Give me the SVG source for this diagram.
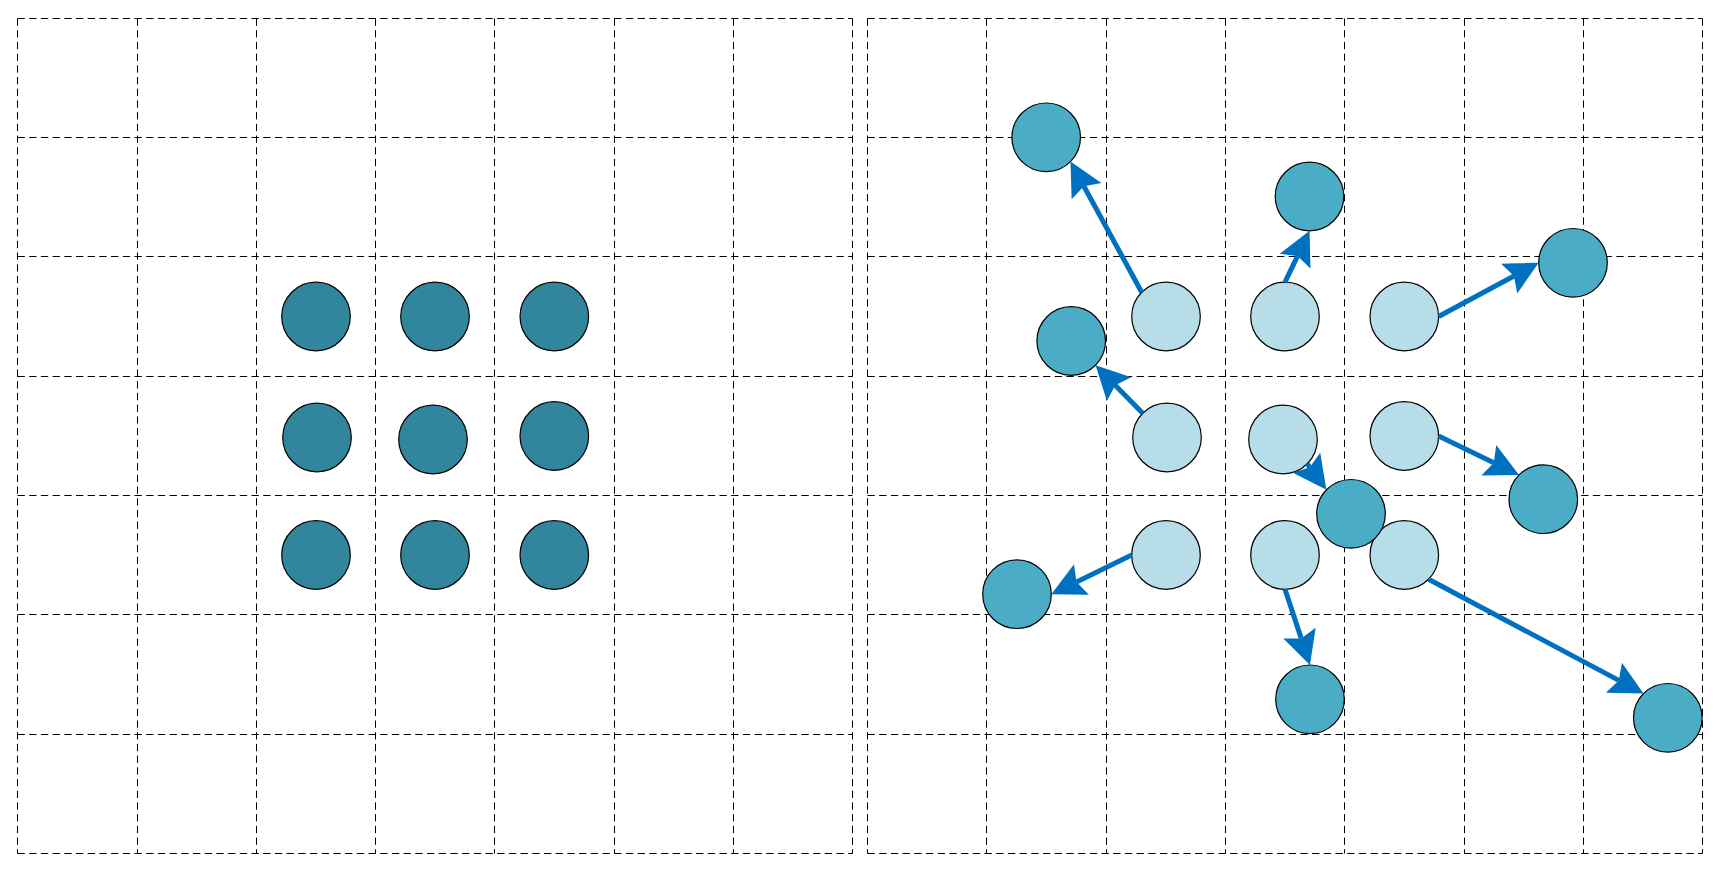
<svg xmlns="http://www.w3.org/2000/svg" width="1719" height="879" viewBox="0 0 1719 879">
<style>
.g{stroke:#000;stroke-width:1;stroke-dasharray:7.3 4.4;fill:none}
.c{stroke:#000;stroke-width:1.2}
.a{fill:#31859C}
.l{fill:#B6DDE8}
.d{fill:#4BACC6}
.k{stroke:#0070C0;stroke-width:5;fill:none;marker-end:url(#ah)}
</style>
<defs>
<marker id="ah" markerUnits="userSpaceOnUse" viewBox="-35 -18 37 36" markerWidth="37" markerHeight="36" refX="-28" refY="0" orient="auto" overflow="visible">
<path d="M0,0 L-33.5,-17 L-28,0 L-33.5,17 Z" fill="#0070C0"/>
</marker>
</defs>
<rect width="1719" height="879" fill="#fff"/>
<g id="grid-left" class="g">
<line x1="17.5" y1="18.5" x2="17.5" y2="853.5"/>
<line x1="137.5" y1="18.5" x2="137.5" y2="853.5"/>
<line x1="256.5" y1="18.5" x2="256.5" y2="853.5"/>
<line x1="375.5" y1="18.5" x2="375.5" y2="853.5"/>
<line x1="494.5" y1="18.5" x2="494.5" y2="853.5"/>
<line x1="614.5" y1="18.5" x2="614.5" y2="853.5"/>
<line x1="733.5" y1="18.5" x2="733.5" y2="853.5"/>
<line x1="852.5" y1="18.5" x2="852.5" y2="853.5"/>
<line x1="17.5" y1="18.5" x2="852.5" y2="18.5"/>
<line x1="17.5" y1="137.5" x2="852.5" y2="137.5"/>
<line x1="17.5" y1="256.5" x2="852.5" y2="256.5"/>
<line x1="17.5" y1="376.5" x2="852.5" y2="376.5"/>
<line x1="17.5" y1="495.5" x2="852.5" y2="495.5"/>
<line x1="17.5" y1="614.5" x2="852.5" y2="614.5"/>
<line x1="17.5" y1="734.5" x2="852.5" y2="734.5"/>
<line x1="17.5" y1="853.5" x2="852.5" y2="853.5"/>
</g>
<g id="grid-right" class="g">
<line x1="867.5" y1="18.5" x2="867.5" y2="853.5"/>
<line x1="986.5" y1="18.5" x2="986.5" y2="853.5"/>
<line x1="1106.5" y1="18.5" x2="1106.5" y2="853.5"/>
<line x1="1225.5" y1="18.5" x2="1225.5" y2="853.5"/>
<line x1="1344.5" y1="18.5" x2="1344.5" y2="853.5"/>
<line x1="1464.5" y1="18.5" x2="1464.5" y2="853.5"/>
<line x1="1583.5" y1="18.5" x2="1583.5" y2="853.5"/>
<line x1="1702.5" y1="18.5" x2="1702.5" y2="853.5"/>
<line x1="867.5" y1="18.5" x2="1702.5" y2="18.5"/>
<line x1="867.5" y1="137.5" x2="1702.5" y2="137.5"/>
<line x1="867.5" y1="256.5" x2="1702.5" y2="256.5"/>
<line x1="867.5" y1="376.5" x2="1702.5" y2="376.5"/>
<line x1="867.5" y1="495.5" x2="1702.5" y2="495.5"/>
<line x1="867.5" y1="614.5" x2="1702.5" y2="614.5"/>
<line x1="867.5" y1="734.5" x2="1702.5" y2="734.5"/>
<line x1="867.5" y1="853.5" x2="1702.5" y2="853.5"/>
</g>
<g id="left-nodes">
<g id="p11"><circle class="c a" cx="316" cy="316.5" r="34.3"/></g>
<g id="p12"><circle class="c a" cx="435" cy="316.5" r="34.3"/></g>
<g id="p13"><circle class="c a" cx="554.3" cy="316.5" r="34.3"/></g>
<g id="p21"><circle class="c a" cx="317" cy="437.5" r="34.3"/></g>
<g id="p22"><circle class="c a" cx="433" cy="439.5" r="34.3"/></g>
<g id="p23"><circle class="c a" cx="554.3" cy="436" r="34.3"/></g>
<g id="p31"><circle class="c a" cx="316" cy="555" r="34.3"/></g>
<g id="p32"><circle class="c a" cx="435" cy="555" r="34.3"/></g>
<g id="p33"><circle class="c a" cx="554.3" cy="555" r="34.3"/></g>
</g>
<g id="source-nodes">
<g id="s11"><circle class="c l" cx="1166" cy="316.5" r="34.3"/></g>
<g id="s12"><circle class="c l" cx="1285" cy="316.5" r="34.3"/></g>
<g id="s13"><circle class="c l" cx="1404.3" cy="316.5" r="34.3"/></g>
<g id="s21"><circle class="c l" cx="1167" cy="437.5" r="34.3"/></g>
<g id="s22"><circle class="c l" cx="1283" cy="439.5" r="34.3"/></g>
<g id="s23"><circle class="c l" cx="1404.3" cy="436" r="34.3"/></g>
<g id="s31"><circle class="c l" cx="1166" cy="555" r="34.3"/></g>
<g id="s32"><circle class="c l" cx="1285" cy="555" r="34.3"/></g>
<g id="s33"><circle class="c l" cx="1404.3" cy="555" r="34.3"/></g>
</g>
<g id="connectors">
<path class="k" d="M1141.7,292.2 L1083.9,186.2"/>
<path class="k" d="M1142.7,413.2 L1115.2,385.2"/>
<path class="k" d="M1285,282.2 L1297.5,256.1"/>
<path class="k" d="M1438.6,316.5 L1514,276"/>
<path class="k" d="M1438.6,436 L1493.8,462.7"/>
<path class="k" d="M1307.3,463.8 L1309.8,467.2"/>
<path class="k" d="M1131.7,555 L1076.5,581.9"/>
<path class="k" d="M1285,589.3 L1301.2,638.4"/>
<path class="k" d="M1428.6,579.3 L1618.8,680.4"/>
</g>
<g id="target-nodes">
<g id="t1"><circle class="c d" cx="1046.2" cy="137.3" r="34.3"/></g>
<g id="t2"><circle class="c d" cx="1071.2" cy="341" r="34.3"/></g>
<g id="t3"><circle class="c d" cx="1309.5" cy="196.5" r="34.3"/></g>
<g id="t4"><circle class="c d" cx="1573" cy="262.8" r="34.3"/></g>
<g id="t5"><circle class="c d" cx="1543.3" cy="499.2" r="34.3"/></g>
<g id="t6"><circle class="c d" cx="1351" cy="513.8" r="34.3"/></g>
<g id="t7"><circle class="c d" cx="1017" cy="594.2" r="34.3"/></g>
<g id="t8"><circle class="c d" cx="1310" cy="699.3" r="34.3"/></g>
<g id="t9"><circle class="c d" cx="1667.8" cy="717.8" r="34.3"/></g>
</g>
</svg>
